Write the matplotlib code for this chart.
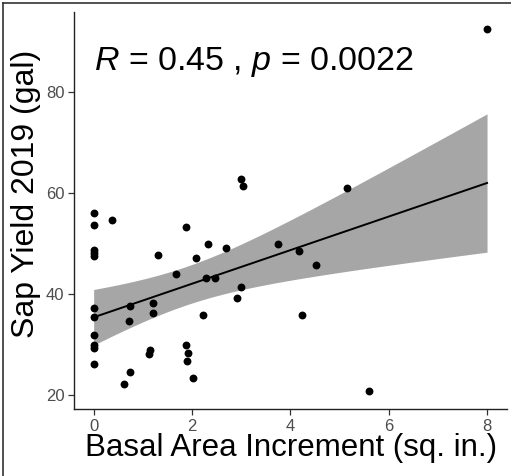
import numpy as np
import matplotlib
matplotlib.use("Agg")
import matplotlib.pyplot as plt
from matplotlib.lines import Line2D

plt.rcParams['font.family'] = ['Liberation Sans', 'DejaVu Sans']
plt.rcParams['mathtext.fontset'] = 'custom'
plt.rcParams['mathtext.rm'] = 'Liberation Sans'
plt.rcParams['mathtext.it'] = 'Liberation Sans:italic'

# Data
bai = [8.0, 0.0, 0.0, 0.38, 0.0, 0.0, 0.0, 1.88, 2.99, 3.04, 5.15, 2.33, 2.70,
       3.75, 4.18, 1.30, 2.08, 4.53, 1.67, 2.29, 2.46, 2.99, 2.91, 0.0, 0.0,
       0.74, 0.71, 1.20, 1.20, 2.22, 4.23, 0.0, 0.0, 0.0, 0.0, 1.12, 1.15,
       1.88, 1.91, 1.89, 0.74, 0.62, 2.01, 5.60]
sap = [92.3, 55.9, 53.6, 54.7, 48.6, 48.0, 47.5, 53.3, 62.8, 61.3, 61.0, 49.8, 49.0,
       49.8, 48.5, 47.7, 47.0, 45.7, 43.9, 43.2, 43.2, 41.3, 39.1, 37.2, 35.4,
       37.5, 34.6, 38.1, 36.2, 35.8, 35.8, 31.9, 29.8, 29.2, 26.1, 28.2, 28.9,
       29.9, 28.4, 26.7, 24.6, 22.2, 23.3, 20.7]
x_ticks = [0, 2, 4, 6, 8]
y_ticks = [20, 40, 60, 80]
annot = r'$\mathit{R}$ = 0.45 , $\mathit{p}$ = 0.0022'
x_label = 'Basal Area Increment (sq. in.)'
y_label = 'Sap Yield 2019 (gal)'

x = np.array(bai)
y = np.array(sap)
n = len(x)
b1, b0 = np.polyfit(x, y, 1)
xs = np.linspace(x.min(), x.max(), 80)
ys = b0 + b1 * xs
resid = y - (b0 + b1 * x)
s = np.sqrt(np.sum(resid ** 2) / (n - 2))
sxx = np.sum((x - x.mean()) ** 2)
tval = 2.02
se = s * np.sqrt(1.0 / n + (xs - x.mean()) ** 2 / sxx)

W, H = 511, 476
fig = plt.figure(figsize=(W / 100, H / 100), dpi=100)
ax = fig.add_axes([74 / W, 1 - 409.3 / H, (506.7 - 74) / W, (409.3 - 11.7) / H])

ax.fill_between(xs, ys - tval * se, ys + tval * se, color='#a6a6a6', lw=0, zorder=1)
ax.plot(xs, ys, color='black', lw=1.4, zorder=2)
ax.scatter(x, y, s=32, color='black', zorder=3, linewidths=0)

ax.set_xlim(-0.4, 8.4)
ax.set_ylim(17.17, 95.8)
ax.set_xticks(x_ticks)
ax.set_yticks(y_ticks)
ax.tick_params(axis='both', colors='#333333', labelcolor='#4d4d4d', labelsize=12,
               length=4, width=0.9, pad=3)
for side in ['top', 'right']:
    ax.spines[side].set_visible(False)
for side in ['left', 'bottom']:
    ax.spines[side].set_color('#222222')
    ax.spines[side].set_linewidth(1.0)

ax.text(0, 84.3, annot, fontsize=24.5, ha='left', va='baseline', color='black')

fig.text(291.5 / W, 1 - 456 / H, x_label, fontsize=22.5, ha='center', va='baseline')
fig.text(26 / W, 1 - 193.5 / H, y_label, fontsize=23, ha='center', va='center', rotation=90)

# thin frame on the left and top of the image
fig.add_artist(Line2D([2.5 / W, 2.5 / W], [0, 1 - 2.5 / H], transform=fig.transFigure, color='#333333', lw=1.2))
fig.add_artist(Line2D([2.5 / W, 1], [1 - 2.5 / H, 1 - 2.5 / H], transform=fig.transFigure, color='#333333', lw=1.2))

fig.savefig('out.png', dpi=100)
